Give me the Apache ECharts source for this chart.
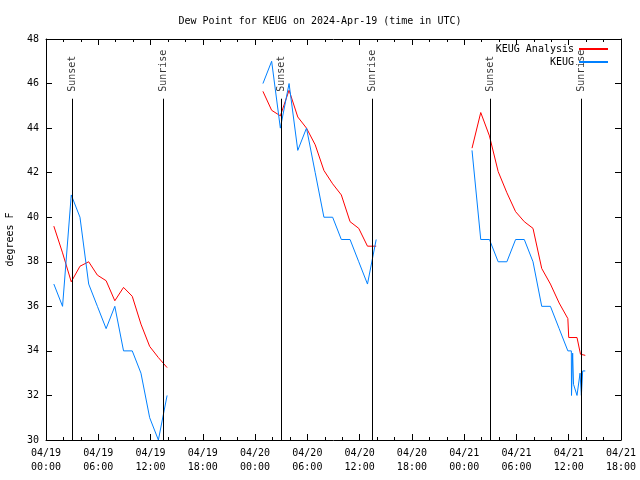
<!DOCTYPE html>
<html>
<head>
<meta charset="utf-8">
<script src="https://cdn.jsdelivr.net/npm/echarts@6/dist/echarts.min.js"></script>
<style>html,body{margin:0;padding:0;background:#fff}#c{width:640px;height:480px}</style>
</head>
<body>
<div id="c"></div>
<script>
// Hours since 2024-04-19 00:00 UTC
const analysisTimes1 = [0.9,1.9,2.9,3.9,4.9,5.9,6.9,7.9,8.9,9.9,10.9,11.9,12.9,13.9];
const analysisVals1  = [39.6,38.4,37.1,37.8,38.0,37.4,37.15,36.25,36.85,36.45,35.2,34.2,33.7,33.25];
const analysisTimes2 = [24.9,25.9,26.9,27.9,28.9,29.9,30.9,31.9,32.9,33.9,34.9,35.9,36.9,37.9];
const analysisVals2  = [45.65,44.8,44.55,45.7,44.5,44.0,43.25,42.1,41.5,41.0,39.8,39.5,38.7,38.7];
const analysisTimes3 = [48.9,49.9,50.9,51.9,52.9,53.9,54.9,55.9,56.9,57.9,58.9,59.9,60.0,60.95,61.35,61.9];
const analysisVals3  = [43.1,44.7,43.65,42.05,41.1,40.25,39.8,39.5,37.7,37.0,36.15,35.45,34.6,34.6,33.85,33.8];

const obsTimes1 = [0.9,1.9,2.9,3.9,4.9,5.9,6.9,7.9,8.9,9.9,10.9,11.9,12.9,13.9];
const obsVals1  = [37,36,41,40,37,36,35,36,34,34,33,31,30,32];
const obsTimes2 = [24.9,25.9,26.9,27.9,28.9,29.9,30.9,31.9,32.9,33.9,34.9,35.9,36.9,37.9];
const obsVals2  = [46,47,44,46,43,44,42,40,40,39,39,38,37,39];
const obsTimes3 = [48.9,49.9,50.9,51.9,52.9,53.9,54.9,55.9,56.9,57.9,58.9,59.9,60.3,60.32,60.45,60.55,60.95,61.3,61.45,61.6,61.9];
const obsVals3  = [43,39,39,38,38,39,39,38,36,36,35,34,34,32,33.9,32.5,32,33,32,33.1,33.1];

const sunsetTimes  = [3.02, 27.02, 50.98];
const sunriseTimes = [13.45, 37.43, 61.4];
const sunLineTop = 45.32;
const sunLabelBase = 45.63;

const yTicks = {min: 30, max: 48, step: 2};
const xTicks = {min: 0, max: 66, step: 6};

function segs(list) {
  const out = [];
  list.forEach(([ts, vs], i) => {
    if (i > 0) out.push([ts[0] - 0.5, '-']);
    ts.forEach((t, j) => out.push([t, vs[j]]));
  });
  return out;
}

const FONT = 'DejaVu Sans Mono';
function xLabel(h) {
  const day = 19 + Math.floor(h / 24);
  const hh = h % 24;
  return '04/' + day + '\n' + String(hh).padStart(2, '0') + ':00';
}

const sunMarks = sunsetTimes.map(t => ({value: [t, sunLabelBase], name: 'Sunset'}))
  .concat(sunriseTimes.map(t => ({value: [t, sunLabelBase], name: 'Sunrise'})));
const sunLines = sunsetTimes.concat(sunriseTimes).map(t => [{coord: [t, yTicks.min]}, {coord: [t, sunLineTop]}]);

const axisCommon = {
  type: 'value',
  axisLine: {show: true, onZero: false, lineStyle: {color: '#000', width: 1}},
  splitLine: {show: false},
  minorSplitLine: {show: false}
};

const chart = echarts.init(document.getElementById('c'), null, {renderer: 'canvas'});
chart.setOption({
  animation: false,
  backgroundColor: '#fff',
  title: {
    text: 'Dew Point for KEUG on 2024-Apr-19 (time in UTC)',
    left: 'center', top: 11,
    textStyle: {fontFamily: FONT, fontSize: 10, fontWeight: 'normal', color: '#000'}
  },
  legend: {
    data: ['KEUG Analysis', 'KEUG'],
    orient: 'vertical', right: 31, top: 44, align: 'right', padding: 0,
    itemWidth: 29, itemHeight: 10, itemGap: 3,
    itemStyle: {opacity: 0},
    textStyle: {fontFamily: FONT, fontSize: 10, color: '#000'}
  },
  grid: {left: 46, right: 19, top: 39, bottom: 40, outerBoundsMode: 'none', containLabel: false},
  xAxis: [
    Object.assign({}, axisCommon, {
      min: xTicks.min, max: xTicks.max, interval: xTicks.step, position: 'bottom',
      axisTick: {show: true, inside: true, length: 6, lineStyle: {color: '#000'}},
      minorTick: {show: true, splitNumber: 3, length: 3, lineStyle: {color: '#000'}},
      axisLabel: {formatter: xLabel, margin: 6, fontFamily: FONT, fontSize: 10, color: '#000', lineHeight: 14}
    }),
    Object.assign({}, axisCommon, {
      min: xTicks.min, max: xTicks.max, interval: xTicks.step, position: 'top',
      axisTick: {show: true, inside: true, length: 6, lineStyle: {color: '#000'}},
      minorTick: {show: true, splitNumber: 3, length: 3, lineStyle: {color: '#000'}},
      axisLabel: {show: false}
    })
  ],
  yAxis: [
    Object.assign({}, axisCommon, {
      min: yTicks.min, max: yTicks.max, interval: yTicks.step, position: 'left',
      axisTick: {show: true, inside: true, length: 6, lineStyle: {color: '#000'}},
      axisLabel: {margin: 7, fontFamily: FONT, fontSize: 10, color: '#000'},
      name: 'degrees F', nameLocation: 'middle', nameGap: 31, nameRotate: 90,
      nameTextStyle: {fontFamily: FONT, fontSize: 10, color: '#000'}
    }),
    Object.assign({}, axisCommon, {
      min: yTicks.min, max: yTicks.max, interval: yTicks.step, position: 'right',
      axisTick: {show: true, inside: true, length: 6, lineStyle: {color: '#000'}},
      axisLabel: {show: false}
    })
  ],
  series: [
    {
      name: 'KEUG Analysis', type: 'line', symbol: 'none', connectNulls: false,
      color: '#ff0000', lineStyle: {color: '#ff0000', width: 1},
      data: segs([[analysisTimes1, analysisVals1], [analysisTimes2, analysisVals2], [analysisTimes3, analysisVals3]]),
      z: 3
    },
    {
      name: 'KEUG', type: 'line', symbol: 'none', connectNulls: false,
      color: '#0080ff', lineStyle: {color: '#0080ff', width: 1},
      data: segs([[obsTimes1, obsVals1], [obsTimes2, obsVals2], [obsTimes3, obsVals3]]),
      z: 3
    },
    {
      name: 'sun', type: 'scatter', symbolSize: 0, silent: true, z: 2,
      data: sunMarks,
      label: {
        show: true, position: 'inside', rotate: 90, align: 'left', verticalAlign: 'middle',
        formatter: p => p.name, fontFamily: FONT, fontSize: 10, color: '#000'
      },
      markLine: {
        silent: true, symbol: 'none', animation: false,
        lineStyle: {color: '#000', width: 1, type: 'solid'},
        label: {show: false},
        emphasis: {disabled: true},
        data: sunLines
      }
    }
  ]
});
</script>
</body>
</html>
